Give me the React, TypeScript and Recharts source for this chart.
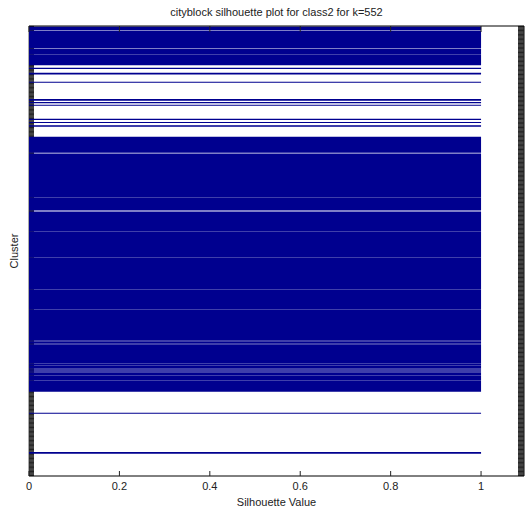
import React from "react";
import { ComposedChart, Area, XAxis, YAxis } from "recharts";

const title = "cityblock silhouette plot for class2 for k=552";
const xLabel = "Silhouette Value";
const yLabel = "Cluster";
const xTicks = [0, 0.2, 0.4, 0.6, 0.8, 1];

// observations stacked from the top of the plot, k = 552 clusters
const totalRows = 450;
const clusterCount = 552;

// runs of consecutive observations (start / end row, from the top) and their silhouette value
const runStart = [
  0.5, 4.9, 22.9, 29.1, 41.7, 46.7, 55.7, 73.0, 76.0, 78.7, 92.7, 96.0, 99.3,
  110.7, 127.5, 172.1, 185.4, 206.1, 232.1, 264.1, 284.1, 315.3, 318.3, 337.5,
  340.0, 343.3, 345.3, 346.7, 350.1, 355.1, 386.7, 426.0,
];
const runEnd = [
  4.6, 22.6, 28.8, 39.2, 43.1, 48.4, 56.8, 74.7, 77.3, 79.8, 94.0, 97.1, 100.7,
  126.7, 171.8, 184.6, 205.8, 231.8, 263.8, 283.8, 314.7, 317.7, 337.2, 339.7,
  342.7, 344.7, 346.4, 349.8, 354.8, 365.7, 387.7, 427.7,
];
const runValue = [
  1, 1, 1, 1, 1, 1, 1, 1, 1, 1, 1, 1, 1,
  1, 1, 1, 1, 1, 1, 1, 1, 1, 1, 1,
  1, 1, 1, 1, 1, 1, 1, 1,
];

// one tick per cluster, as the plot draws them
const clusterTicks = Array.from(
  { length: clusterCount },
  (_, i) => ((i + 0.5) * totalRows) / clusterCount
);

const chartData = runStart.flatMap((start, i) => [
  { row: start, value: 0 },
  { row: start, value: runValue[i] },
  { row: runEnd[i], value: runValue[i] },
  { row: runEnd[i], value: 0 },
]);

const font = "'Liberation Sans', Arial, sans-serif";
const ink = "#222";
const barColor = "#00008f";
const noLabel = () => "";

export default function App() {
  return (
    <div style={{ position: "absolute", left: 0, top: 0, width: 525, height: 514, background: "#fff" }}>
      <ComposedChart
        width={525}
        height={514}
        layout="vertical"
        data={chartData}
        margin={{ top: 25, right: 0, bottom: 0, left: 0 }}
      >
        <XAxis
          type="number"
          domain={[0, 1.095]}
          ticks={xTicks}
          interval={0}
          allowDataOverflow
          height={38}
          tickSize={-5}
          tickMargin={11}
          axisLine={{ stroke: "#000" }}
          tickLine={{ stroke: ink }}
          tick={{ fontSize: 11, fill: ink, fontFamily: font }}
          zIndex={700}
        />
        <XAxis
          xAxisId="top"
          orientation="top"
          type="number"
          domain={[0, 1.095]}
          ticks={xTicks}
          interval={0}
          allowDataOverflow
          height={1}
          tickSize={-6}
          tickFormatter={noLabel}
          axisLine={{ stroke: "#000" }}
          tickLine={{ stroke: ink }}
          zIndex={700}
        />
        <YAxis
          type="number"
          dataKey="row"
          domain={[0, totalRows]}
          allowDataOverflow
          ticks={clusterTicks}
          interval={0}
          width={29}
          tickSize={-5}
          tickFormatter={noLabel}
          axisLine={{ stroke: "#555" }}
          tickLine={{ stroke: ink }}
          zIndex={50}
        />
        <YAxis
          yAxisId="right"
          orientation="right"
          type="number"
          dataKey="row"
          domain={[0, totalRows]}
          allowDataOverflow
          ticks={clusterTicks}
          interval={0}
          width={1}
          tickSize={-6}
          tickFormatter={noLabel}
          axisLine={{ stroke: "#000" }}
          tickLine={{ stroke: ink }}
          zIndex={50}
        />
        <Area
          type="linear"
          dataKey="value"
          fill={barColor}
          fillOpacity={1}
          stroke="none"
          isAnimationActive={false}
          zIndex={100}
        />
      </ComposedChart>
      <svg
        width={525}
        height={514}
        style={{ position: "absolute", left: 0, top: 0, pointerEvents: "none" }}
      >
        <text x={276.5} y={16} textAnchor="middle" fontSize={11} fontFamily={font} fill={ink}>
          {title}
        </text>
        <text x={276.5} y={506} textAnchor="middle" fontSize={11} fontFamily={font} fill={ink}>
          {xLabel}
        </text>
        <text
          x={18}
          y={251}
          textAnchor="middle"
          fontSize={11}
          fontFamily={font}
          fill={ink}
          transform="rotate(-90 18 251)"
        >
          {yLabel}
        </text>
      </svg>
    </div>
  );
}
